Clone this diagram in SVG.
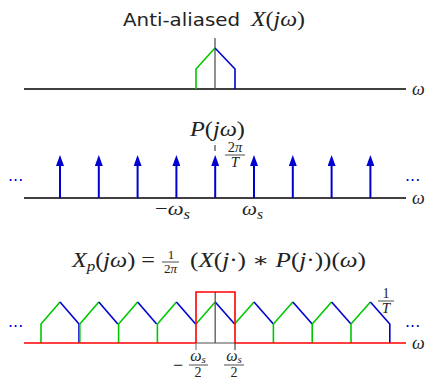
<svg xmlns="http://www.w3.org/2000/svg" width="426" height="379" viewBox="0 0 426 379">
<defs>
<style>
.ax{stroke:#000;stroke-width:1.3;fill:none}
.g{stroke:#00c800;stroke-width:1.6;fill:none;stroke-linejoin:round}
.b{stroke:#0000d0;stroke-width:1.6;fill:none;stroke-linejoin:round}
.imp{stroke:#0000d0;stroke-width:2;fill:none}
.r{stroke:#ff0000;stroke-width:1.6;fill:none}
.gr{stroke:#555;stroke-width:1.3;fill:none}
.m{font-family:"Liberation Serif","DejaVu Serif",serif;font-style:italic;fill:#222}
.u{font-family:"Liberation Serif","DejaVu Serif",serif;font-style:normal;fill:#222}
.s{font-family:"DejaVu Sans",sans-serif;fill:#222}
.dots{font-family:"DejaVu Sans",sans-serif;fill:#0000d0;font-size:16px}
.fl{stroke:#222;stroke-width:0.8}
</style>
<marker id="ah" viewBox="0 0 11 8" refX="6" refY="4" markerWidth="11" markerHeight="8" markerUnits="userSpaceOnUse" orient="auto">
<path d="M0,0 L11,4 L0,8 Z" fill="#0000d0"/>
</marker>
</defs>

<!-- Panel 1 -->
<g id="panel1">
<text x="123" y="26" class="s" font-size="17.5" textLength="117" lengthAdjust="spacingAndGlyphs">Anti-aliased</text>
<text x="251" y="26" font-size="20" textLength="54" lengthAdjust="spacingAndGlyphs"><tspan class="m">X</tspan><tspan class="u">(</tspan><tspan class="m">jω</tspan><tspan class="u">)</tspan></text>
<line class="ax" x1="24" y1="89" x2="406" y2="89"/>
<text x="412" y="95" class="m" font-size="18">ω</text>
<line class="gr" x1="215" y1="38" x2="215" y2="89"/>
<polyline class="g" points="196,89 196,69 215,48"/>
<polyline class="b" points="215,48 235,69 235,89"/>
</g>

<!-- Panel 2 -->
<g id="panel2">
<text x="190" y="136" font-size="20" textLength="55" lengthAdjust="spacingAndGlyphs"><tspan class="m">P</tspan><tspan class="u">(</tspan><tspan class="m">jω</tspan><tspan class="u">)</tspan></text>
<line class="ax" x1="24" y1="198" x2="406" y2="198"/>
<text x="412" y="204" class="m" font-size="18">ω</text>
<line stroke="#222" stroke-width="1" x1="215" y1="145" x2="215" y2="151"/>
<text x="235" y="152" class="u" font-size="14.5" text-anchor="middle">2<tspan class="m">π</tspan></text>
<line class="fl" x1="225" y1="155" x2="245" y2="155"/>
<text x="235" y="167" class="m" font-size="15" text-anchor="middle">T</text>
<text x="8" y="186" class="dots">···</text>
<text x="405" y="186" class="dots">···</text>
<text x="155" y="215" font-size="19" textLength="35" lengthAdjust="spacingAndGlyphs"><tspan class="u">−</tspan><tspan class="m">ω</tspan><tspan class="m" font-size="14" dy="4">s</tspan></text>
<text x="242" y="215" font-size="19" textLength="21" lengthAdjust="spacingAndGlyphs"><tspan class="m">ω</tspan><tspan class="m" font-size="14" dy="4">s</tspan></text>
</g>

<g id="impulses">
<line class="imp" x1="60" y1="198" x2="60" y2="160" marker-end="url(#ah)"/>
<line class="imp" x1="98.8" y1="198" x2="98.8" y2="160" marker-end="url(#ah)"/>
<line class="imp" x1="137.6" y1="198" x2="137.6" y2="160" marker-end="url(#ah)"/>
<line class="imp" x1="176.4" y1="198" x2="176.4" y2="160" marker-end="url(#ah)"/>
<line class="imp" x1="215.2" y1="198" x2="215.2" y2="160" marker-end="url(#ah)"/>
<line class="imp" x1="254" y1="198" x2="254" y2="160" marker-end="url(#ah)"/>
<line class="imp" x1="292.8" y1="198" x2="292.8" y2="160" marker-end="url(#ah)"/>
<line class="imp" x1="331.6" y1="198" x2="331.6" y2="160" marker-end="url(#ah)"/>
<line class="imp" x1="370.4" y1="198" x2="370.4" y2="160" marker-end="url(#ah)"/>
</g>

<!-- Panel 3 -->
<g id="panel3">
<text x="72" y="267" font-size="20" textLength="83" lengthAdjust="spacingAndGlyphs"><tspan class="m">X</tspan><tspan class="m" font-size="14" dy="4">p</tspan><tspan class="u" dy="-4">(</tspan><tspan class="m">jω</tspan><tspan class="u">) =</tspan></text>
<text x="171" y="259" class="u" font-size="13" text-anchor="middle">1</text>
<line class="fl" x1="162" y1="262" x2="179" y2="262"/>
<text x="170.5" y="273" class="u" font-size="13" text-anchor="middle">2<tspan class="m">π</tspan></text>
<text x="190" y="267" font-size="20" textLength="176" lengthAdjust="spacingAndGlyphs"><tspan class="u">(</tspan><tspan class="m">X</tspan><tspan class="u">(</tspan><tspan class="m">j</tspan><tspan class="u">·) ∗ </tspan><tspan class="m">P</tspan><tspan class="u">(</tspan><tspan class="m">j</tspan><tspan class="u">·))(</tspan><tspan class="m">ω</tspan><tspan class="u">)</tspan></text>

<polyline class="g" points="41,343 41,324 60,302"/><polyline class="b" points="60,302 79,324 79,343"/>
<polyline class="g" points="79.8,343 79.8,324 98.8,302"/><polyline class="b" points="98.8,302 117.8,324"/>
<polyline class="g" points="118.6,343 118.6,324 137.6,302"/><polyline class="b" points="137.6,302 156.6,324"/>
<polyline class="g" points="157.4,343 157.4,324 176.4,302"/><polyline class="b" points="176.4,302 195.6,324"/>
<polyline class="g" points="196,324 215.2,302"/><polyline class="b" points="215.2,302 234.6,324"/>
<polyline class="g" points="234.6,324 254,302"/><polyline class="b" points="254,302 273.4,324"/>
<polyline class="g" points="273.4,343 273.4,324 292.8,302"/><polyline class="b" points="292.8,302 312.2,324"/>
<polyline class="g" points="312.2,343 312.2,324 331.6,302"/><polyline class="b" points="331.6,302 351,324"/>
<polyline class="g" points="351,343 351,324 370.4,302"/><polyline class="b" points="370.4,302 389.8,324 389.8,343"/>

<line class="r" x1="24" y1="343" x2="196" y2="343"/>
<line class="r" x1="235" y1="343" x2="406" y2="343"/>
<line stroke="#888" stroke-width="1.3" x1="196" y1="343" x2="235" y2="343"/>
<line class="gr" x1="215.2" y1="292" x2="215.2" y2="343"/>
<polyline class="r" points="196,343 196,292 235,292 235,343"/>
<line stroke="#666" stroke-width="1" x1="196" y1="343" x2="196" y2="350"/>
<line stroke="#222" stroke-width="1" x1="235" y1="343" x2="235" y2="350"/>

<text x="412" y="349" class="m" font-size="18">ω</text>
<text x="8" y="332" class="dots">···</text>
<text x="405" y="332" class="dots">···</text>

<text x="386" y="298" class="u" font-size="14" text-anchor="middle">1</text>
<line class="fl" x1="378" y1="301" x2="394" y2="301"/>
<text x="386" y="313" class="m" font-size="15" text-anchor="middle">T</text>

<text x="173" y="371" class="u" font-size="18">−</text>
<text x="198" y="361" font-size="16" text-anchor="middle"><tspan class="m">ω</tspan><tspan class="m" font-size="11" dy="2">s</tspan></text>
<line class="fl" x1="189" y1="365" x2="208" y2="365"/>
<text x="198" y="377" class="u" font-size="14" text-anchor="middle">2</text>

<text x="234" y="361" font-size="16" text-anchor="middle"><tspan class="m">ω</tspan><tspan class="m" font-size="11" dy="2">s</tspan></text>
<line class="fl" x1="224" y1="365" x2="244" y2="365"/>
<text x="234" y="377" class="u" font-size="14" text-anchor="middle">2</text>
</g>
</svg>
